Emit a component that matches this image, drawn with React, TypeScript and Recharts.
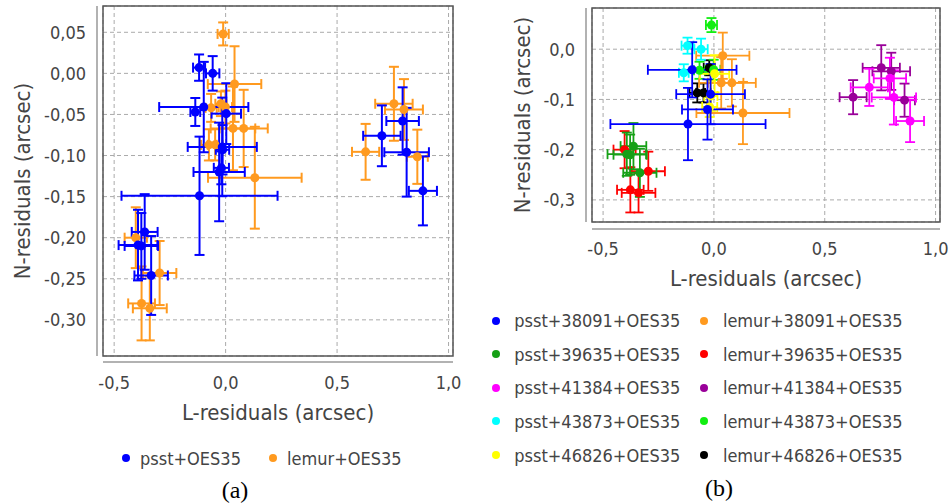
import React from 'react';
import {
  ScatterChart, Scatter, XAxis, YAxis, ZAxis, CartesianGrid, ErrorBar,
  ReferenceArea, Legend, Label,
} from 'recharts';

type Pt = { x: number; y: number; ex: number; ey: number };

// ---- data (L-residual, N-residual, L-error, N-error), arcsec ----
const psst38091: Pt[] = [
  { x: -0.098, y: -0.041, ex: 0.2, ey: 0.055 },
  { x: -0.015, y: -0.0895, ex: 0.155, ey: 0.06 },
  { x: -0.029, y: -0.12, ex: 0.115, ey: 0.06 },
  { x: -0.117, y: -0.149, ex: 0.35, ey: 0.072 },
];
const psst39635: Pt[] = [
  { x: -0.363, y: -0.193, ex: 0.058, ey: 0.046 },
  { x: -0.393, y: -0.209, ex: 0.087, ey: 0.043 },
  { x: -0.378, y: -0.21, ex: 0.075, ey: 0.04 },
  { x: -0.334, y: -0.246, ex: 0.075, ey: 0.048 },
];
const psst41384: Pt[] = [
  { x: 0.701, y: -0.076, ex: 0.084, ey: 0.037 },
  { x: 0.794, y: -0.058, ex: 0.073, ey: 0.041 },
  { x: 0.812, y: -0.096, ex: 0.1, ey: 0.054 },
  { x: 0.885, y: -0.143, ex: 0.063, ey: 0.042 },
];
const psst43873: Pt[] = [
  { x: -0.119, y: 0.007, ex: 0.027, ey: 0.016 },
  { x: -0.058, y: 0.0, ex: 0.03, ey: 0.021 },
  { x: -0.136, y: -0.047, ex: 0.022, ey: 0.017 },
];
const psst46826: Pt[] = [
  { x: 0.003, y: -0.049, ex: 0.066, ey: 0.037 },
  { x: -0.014, y: -0.093, ex: 0.03, ey: 0.03 },
  { x: -0.019, y: -0.115, ex: 0.034, ey: 0.02 },
];
const lemur38091: Pt[] = [
  { x: 0.04, y: -0.013, ex: 0.12, ey: 0.046 },
  { x: 0.033, y: -0.067, ex: 0.1, ey: 0.051 },
  { x: 0.081, y: -0.067, ex: 0.108, ey: 0.047 },
  { x: 0.131, y: -0.127, ex: 0.21, ey: 0.062 },
];
const lemur39635: Pt[] = [
  { x: -0.403, y: -0.2, ex: 0.05, ey: 0.037 },
  { x: -0.377, y: -0.28, ex: 0.06, ey: 0.045 },
  { x: -0.34, y: -0.286, ex: 0.076, ey: 0.039 },
  { x: -0.296, y: -0.243, ex: 0.075, ey: 0.039 },
];
const lemur41384: Pt[] = [
  { x: 0.628, y: -0.0955, ex: 0.061, ey: 0.034 },
  { x: 0.755, y: -0.037, ex: 0.084, ey: 0.045 },
  { x: 0.8, y: -0.044, ex: 0.085, ey: 0.037 },
  { x: 0.86, y: -0.1015, ex: 0.047, ey: 0.033 },
];
const lemur43873: Pt[] = [
  { x: -0.011, y: 0.048, ex: 0.025, ey: 0.014 },
  { x: -0.065, y: -0.042, ex: 0.025, ey: 0.017 },
  { x: -0.001, y: -0.041, ex: 0.03, ey: 0.02 },
];
const lemur46826: Pt[] = [
  { x: -0.075, y: -0.087, ex: 0.035, ey: 0.019 },
  { x: -0.047, y: -0.087, ex: 0.033, ey: 0.019 },
  { x: -0.021, y: -0.037, ex: 0.025, ey: 0.015 },
];

const X_TICKS = [-0.5, 0, 0.5, 1.0];
const Y_TICKS_A = [-0.3, -0.25, -0.2, -0.15, -0.1, -0.05, 0, 0.05];
const Y_TICKS_B = [-0.3, -0.2, -0.1, 0];
const X_DOMAIN: [number, number] = [-0.55, 1.02];
const Y_DOMAIN: [number, number] = [-0.344, 0.082];

const X_TITLE = 'L-residuals (arcsec)';
const Y_TITLE = 'N-residuals (arcsec)';

// panel (a): all psst vs all lemur
const SERIES_A = [
  { name: 'psst+OES35', color: '#0000FF', data: [...psst38091, ...psst39635, ...psst41384, ...psst43873, ...psst46826] },
  { name: 'lemur+OES35', color: '#FF9A1F', data: [...lemur38091, ...lemur39635, ...lemur41384, ...lemur43873, ...lemur46826] },
];

// panel (b): per observation series (legend order, row-major in 2 columns)
const SERIES_B = [
  { name: 'psst+38091+OES35', color: '#0000FF', data: psst38091, rank: 0 },
  { name: 'lemur+38091+OES35', color: '#FF9A1F', data: lemur38091, rank: 5 },
  { name: 'psst+39635+OES35', color: '#16A016', data: psst39635, rank: 1 },
  { name: 'lemur+39635+OES35', color: '#FF0000', data: lemur39635, rank: 6 },
  { name: 'psst+41384+OES35', color: '#FF00FF', data: psst41384, rank: 2 },
  { name: 'lemur+41384+OES35', color: '#990099', data: lemur41384, rank: 7 },
  { name: 'psst+43873+OES35', color: '#00FFFF', data: psst43873, rank: 3 },
  { name: 'lemur+43873+OES35', color: '#11EE11', data: lemur43873, rank: 8 },
  { name: 'psst+46826+OES35', color: '#FFFF00', data: psst46826, rank: 4 },
  { name: 'lemur+46826+OES35', color: '#000000', data: lemur46826, rank: 9 },
];

const FONT = '"DejaVu Sans Condensed", "DejaVu Sans", Verdana, sans-serif';
const TEXT = '#444444';

const fmt = (d: number) => (v: number) => v.toFixed(d).replace('.', ',');

const xTitle = (dy: number) => (props: any) => {
  const vb = props.viewBox || {};
  return (
    <text x={vb.x + vb.width / 2} y={vb.y + dy} textAnchor="middle"
      fontSize={22} fontFamily={FONT} fill={TEXT}>{props.value}</text>
  );
};
const yTitle = (dx: number) => (props: any) => {
  const vb = props.viewBox || {};
  const bx = vb.x + vb.width - dx;
  const cy = vb.y + vb.height / 2;
  return (
    <text x={bx} y={cy} textAnchor="middle" transform={`rotate(-90 ${bx} ${cy})`}
      fontSize={22} fontFamily={FONT} fill={TEXT}>{props.value}</text>
  );
};

const Dot = ({ color }: { color: string }) => (
  <span style={{ display: 'inline-block', width: 8, height: 8, borderRadius: 4, background: color, flex: 'none' }} />
);

const LegendA = () => (
  <div style={{ display: 'grid', gridTemplateColumns: '147px 147px', fontFamily: FONT, fontSize: 18, color: TEXT }}>
    {SERIES_A.map((s) => (
      <div key={s.name} style={{ display: 'flex', alignItems: 'center', height: 24, whiteSpace: 'nowrap' }}>
        <Dot color={s.color} />
        <span style={{ marginLeft: 10 }}>{s.name}</span>
      </div>
    ))}
  </div>
);

const LegendB = () => (
  <div style={{ display: 'grid', gridTemplateColumns: '208.6px 208.6px', gridAutoRows: '33.6px', fontFamily: FONT, fontSize: 18, color: TEXT }}>
    {SERIES_B.map((s) => (
      <div key={s.name} style={{ display: 'flex', alignItems: 'center', whiteSpace: 'nowrap' }}>
        <Dot color={s.color} />
        <span style={{ marginLeft: 14.6 }}>{s.name}</span>
      </div>
    ))}
  </div>
);

const tickStyle = { fill: TEXT, fontSize: 18, fontFamily: FONT };

function renderSeries(list: { name: string; color: string; data: Pt[] }[], barW: number) {
  return list.map((s) => (
    <Scatter key={s.name} name={s.name} data={s.data} fill={s.color} isAnimationActive={false}>
      <ErrorBar dataKey="ex" direction="x" width={5} stroke={s.color} strokeWidth={barW} isAnimationActive={false} />
      <ErrorBar dataKey="ey" direction="y" width={5} stroke={s.color} strokeWidth={barW} isAnimationActive={false} />
    </Scatter>
  ));
}

export default function App() {
  // draw order: first series ends up on top (later children paint over earlier ones)
  const drawA = [...SERIES_A].reverse();
  const drawB = [...SERIES_B].sort((a, b) => b.rank - a.rank);
  return (
    <div style={{ position: 'absolute', left: 0, top: 0, width: 949, height: 504, background: '#fff', overflow: 'hidden' }}>
      <div style={{ position: 'absolute', left: 0, top: 0 }}>
        <ScatterChart width={470} height={504} margin={{ top: 6, right: 17, left: 0, bottom: 64 }}>
          <CartesianGrid stroke="#aaaaaa" strokeDasharray="4 3" />
          <XAxis type="number" dataKey="x" domain={X_DOMAIN} ticks={X_TICKS} allowDataOverflow
            tickFormatter={fmt(1)} tick={tickStyle} tickLine={false} tickSize={0} tickMargin={20} height={84}
            axisLine={{ stroke: '#999999', strokeWidth: 1.5, transform: 'translate(0,6)' }}>
            <Label value={X_TITLE} content={xTitle(64)} />
          </XAxis>
          <YAxis type="number" dataKey="y" domain={Y_DOMAIN} ticks={Y_TICKS_A} allowDataOverflow
            tickFormatter={fmt(2)} tick={tickStyle} tickLine={false} tickSize={0} tickMargin={17} width={103}
            axisLine={{ stroke: '#999999', strokeWidth: 1.5, transform: 'translate(-6,0)' }}>
            <Label value={Y_TITLE} content={yTitle(73)} />
          </YAxis>
          <ZAxis range={[78, 78]} />
          {renderSeries(drawA, 2)}
          <ReferenceArea x1={X_DOMAIN[0]} x2={X_DOMAIN[1]} y1={Y_DOMAIN[0]} y2={Y_DOMAIN[1]}
            fill="none" fillOpacity={0} stroke="#555555" strokeWidth={1.5} strokeOpacity={1} ifOverflow="visible" />
          <Legend layout="vertical" align="center" verticalAlign="middle" content={LegendA}
            wrapperStyle={{ left: 122, top: 446, width: 320, height: 24 }} />
        </ScatterChart>
      </div>
      <div style={{ position: 'absolute', left: 470, top: 0 }}>
        <ScatterChart width={479} height={504} margin={{ top: 8, right: 9, left: 0, bottom: 204 }}>
          <CartesianGrid stroke="#aaaaaa" strokeDasharray="4 3" />
          <XAxis type="number" dataKey="x" domain={X_DOMAIN} ticks={X_TICKS} allowDataOverflow
            tickFormatter={fmt(1)} tick={tickStyle} tickLine={false} tickSize={0} tickMargin={20} height={78}
            axisLine={{ stroke: '#999999', strokeWidth: 1.5, transform: 'translate(0,7)' }}>
            <Label value={X_TITLE} content={xTitle(64)} />
          </XAxis>
          <YAxis type="number" dataKey="y" domain={Y_DOMAIN} ticks={Y_TICKS_B} allowDataOverflow
            tickFormatter={fmt(1)} tick={tickStyle} tickLine={false} tickSize={0} tickMargin={17} width={122}
            axisLine={{ stroke: '#999999', strokeWidth: 1.5, transform: 'translate(-6,0)' }}>
            <Label value={Y_TITLE} content={yTitle(62)} />
          </YAxis>
          <ZAxis range={[55, 55]} />
          {renderSeries(drawB, 1.8)}
          <ReferenceArea x1={X_DOMAIN[0]} x2={X_DOMAIN[1]} y1={Y_DOMAIN[0]} y2={Y_DOMAIN[1]}
            fill="none" fillOpacity={0} stroke="#555555" strokeWidth={1.5} strokeOpacity={1} ifOverflow="visible" />
          <Legend layout="vertical" align="center" verticalAlign="middle" content={LegendB}
            wrapperStyle={{ left: 21.7, top: 303.9, width: 440, height: 170 }} />
        </ScatterChart>
      </div>
      <div style={{ position: 'absolute', left: 200, top: 478, width: 70, textAlign: 'center', fontFamily: '"Liberation Serif", "Times New Roman", serif', fontSize: 24, lineHeight: '24px', color: '#000' }}>(a)</div>
      <div style={{ position: 'absolute', left: 684, top: 476, width: 70, textAlign: 'center', fontFamily: '"Liberation Serif", "Times New Roman", serif', fontSize: 24, lineHeight: '24px', color: '#000' }}>(b)</div>
    </div>
  );
}
